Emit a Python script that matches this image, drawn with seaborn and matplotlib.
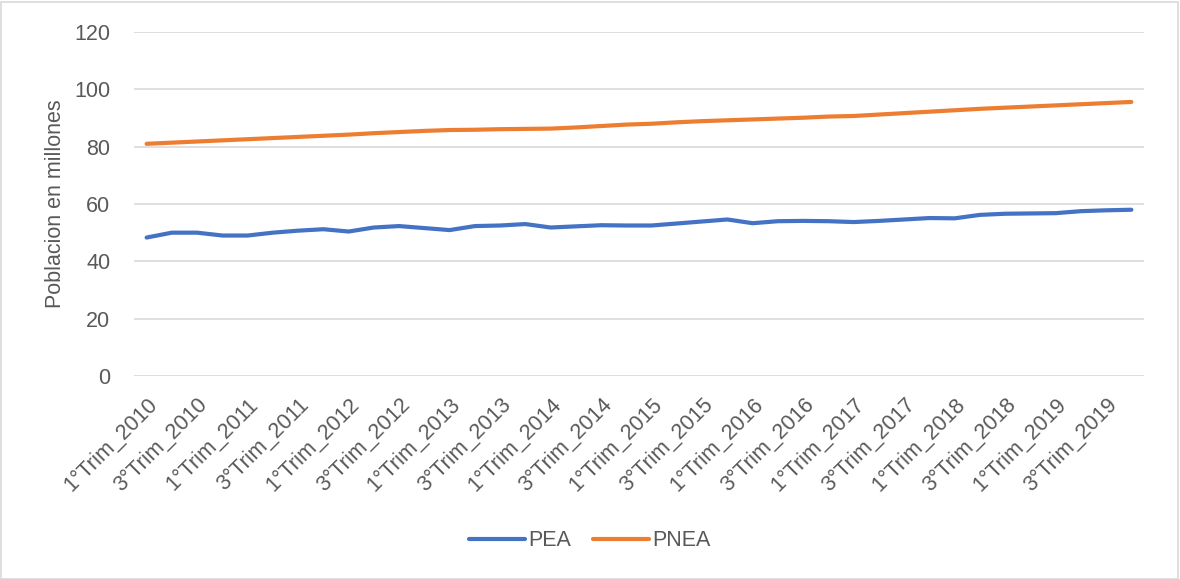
import matplotlib
matplotlib.use("Agg")
import matplotlib.pyplot as plt
import seaborn as sns
import pandas as pd
from matplotlib.patches import Rectangle
from matplotlib.lines import Line2D

years = list(range(2010, 2020))
quarters = [f"{q}°Trim_{y}" for y in years for q in (1, 2, 3, 4)]

pea = [48.3, 50.0, 50.0, 49.0, 49.0, 50.0, 50.7, 51.2, 50.4, 51.8,
       52.3, 51.6, 50.9, 52.3, 52.5, 53.0, 51.8, 52.2, 52.6, 52.5,
       52.5, 53.2, 53.9, 54.6, 53.3, 54.0, 54.1, 54.0, 53.7, 54.1,
       54.6, 55.1, 55.0, 56.2, 56.6, 56.7, 56.8, 57.5, 57.8, 58.0]

pnea = [81.0, 81.4, 81.8, 82.2, 82.6, 83.0, 83.4, 83.8, 84.2, 84.7,
        85.1, 85.5, 85.8, 85.9, 86.1, 86.2, 86.3, 86.7, 87.2, 87.7,
        88.0, 88.5, 88.9, 89.2, 89.5, 89.8, 90.1, 90.5, 90.7, 91.2,
        91.7, 92.2, 92.7, 93.2, 93.6, 94.0, 94.4, 94.8, 95.2, 95.6]

series_names = ["PEA", "PNEA"]
colors = ["#4472C4", "#ED7D31"]
y_ticks = [0, 20, 40, 60, 80, 100, 120]
y_label = "Poblacion en millones"

df = pd.DataFrame({"idx": list(range(len(quarters))) * 2,
                   "valor": pea + pnea,
                   "serie": ["PEA"] * len(pea) + ["PNEA"] * len(pnea)})

sns.set_theme(style="white")
plt.rcParams["font.family"] = ["Liberation Sans", "DejaVu Sans"]
text_color = "#595959"
fs = 15.5

fig = plt.figure(figsize=(11.8, 5.79), dpi=100)
ax = fig.add_axes([134 / 1180, 1 - 376 / 579, (1144 - 134) / 1180, (376 - 32) / 579])

sns.lineplot(data=df, x="idx", y="valor", hue="serie", hue_order=series_names,
             palette=colors, linewidth=3, ax=ax, legend=False,
             solid_capstyle="round")

ax.set_xlim(-0.5, len(quarters) - 0.5)
ax.set_ylim(0, 120)
ax.set_yticks(y_ticks)
ax.yaxis.grid(True, color="#D9D9D9", linewidth=1.2)
ax.xaxis.grid(False)
for s in ax.spines.values():
    s.set_visible(False)

ax.set_xticks(range(0, len(quarters), 2))
ax.set_xticklabels(quarters[::2], rotation=45, ha="right", rotation_mode="anchor")
ax.tick_params(axis="x", length=0, pad=13, labelsize=fs, labelcolor=text_color)
ax.tick_params(axis="y", length=0, pad=17, labelsize=fs, labelcolor=text_color)
ax.set_xlabel("")
ax.set_ylabel(y_label, fontsize=fs, color=text_color, labelpad=6)

handles = [Line2D([0], [0], color=c, lw=3, solid_capstyle="round") for c in colors]
fig.legend(handles, series_names, loc="center", bbox_to_anchor=(0.5, 1 - 541 / 579),
           ncol=2, frameon=False, fontsize=fs, labelcolor=text_color,
           handlelength=2.6, handletextpad=0.15, columnspacing=1.0)

fig.patches.append(Rectangle((0.5 / 1180, 0.5 / 579), 1 - 3 / 1180, 1 - 2 / 579,
                             transform=fig.transFigure, fill=False,
                             edgecolor="#D9D9D9", linewidth=1.2))

fig.savefig("out.png", dpi=100)
